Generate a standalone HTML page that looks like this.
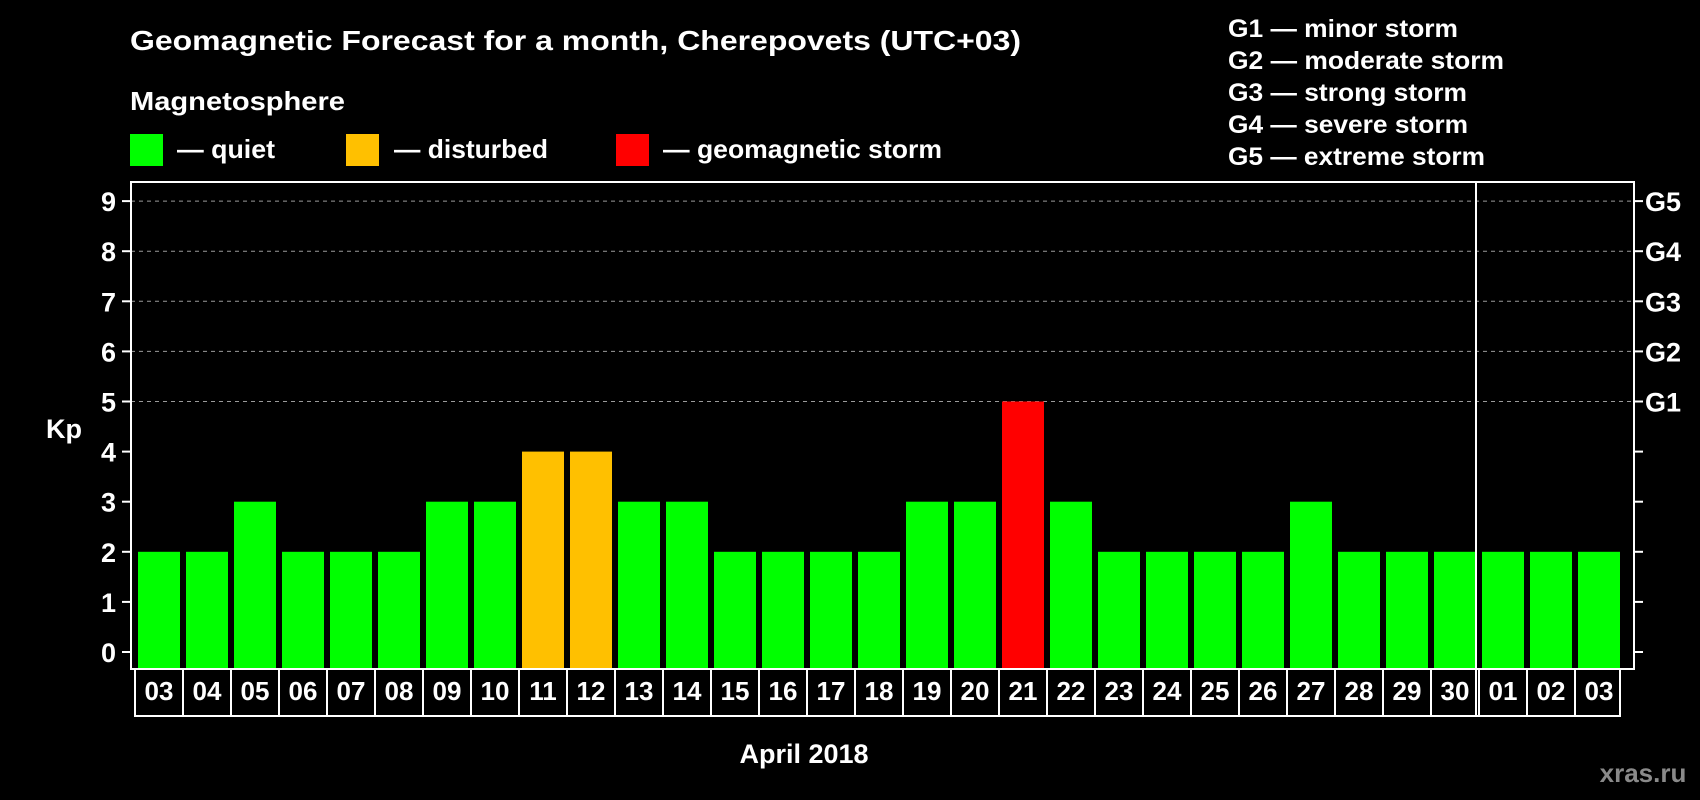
<!DOCTYPE html>
<html><head><meta charset="utf-8"><style>
html,body{margin:0;padding:0;background:#000;}
svg{display:block;}
text{font-family:"Liberation Sans",Arial,sans-serif;font-weight:bold;fill:#fff;}
</style></head><body>
<svg id="chart" width="1700" height="800" viewBox="0 0 1700 800" xmlns="http://www.w3.org/2000/svg">
<rect width="1700" height="800" fill="#000"/>
<text x="130" y="50" font-size="28" textLength="891" lengthAdjust="spacingAndGlyphs">Geomagnetic Forecast for a month, Cherepovets (UTC+03)</text>
<text x="130" y="110" font-size="26" textLength="215" lengthAdjust="spacingAndGlyphs">Magnetosphere</text>
<rect x="130" y="134" width="33" height="32" fill="#00ff00"/>
<text x="177" y="158" font-size="26" textLength="98" lengthAdjust="spacingAndGlyphs">— quiet</text>
<rect x="346" y="134" width="33" height="32" fill="#ffc000"/>
<text x="394" y="158" font-size="26" textLength="154" lengthAdjust="spacingAndGlyphs">— disturbed</text>
<rect x="616" y="134" width="33" height="32" fill="#ff0000"/>
<text x="663" y="158" font-size="26" textLength="279" lengthAdjust="spacingAndGlyphs">— geomagnetic storm</text>
<g>
<text x="1228" y="37" font-size="25" textLength="230" lengthAdjust="spacingAndGlyphs">G1 — minor storm</text>
<text x="1228" y="69" font-size="25" textLength="276" lengthAdjust="spacingAndGlyphs">G2 — moderate storm</text>
<text x="1228" y="101" font-size="25" textLength="239" lengthAdjust="spacingAndGlyphs">G3 — strong storm</text>
<text x="1228" y="133" font-size="25" textLength="240" lengthAdjust="spacingAndGlyphs">G4 — severe storm</text>
<text x="1228" y="165" font-size="25" textLength="257" lengthAdjust="spacingAndGlyphs">G5 — extreme storm</text>
</g>
<g id="grid"></g>
<g id="bars"></g>
<rect x="131" y="182" width="1503" height="487" fill="none" stroke="#fff" stroke-width="2"/>
<g id="axes"></g>
<text x="64" y="438" font-size="27" text-anchor="middle">Kp</text>
<text x="804" y="763" font-size="27" text-anchor="middle">April 2018</text>
<text x="1643" y="782" font-size="26" text-anchor="middle" style="fill:#8a8a8a">xras.ru</text>
</svg>
<script>
const days = ["03","04","05","06","07","08","09","10","11","12","13","14","15","16","17","18","19","20","21","22","23","24","25","26","27","28","29","30","01","02","03"];
const kpValues = [2,2,3,2,2,2,3,3,4,4,3,3,2,2,2,2,3,3,5,3,2,2,2,2,3,2,2,2,2,2,2];
const yTicks = [0,1,2,3,4,5,6,7,8,9];
const gLabels = ["G1","G2","G3","G4","G5"];
const gLevels = [5,6,7,8,9];
const monthBreakIndex = 28;

const NS = "http://www.w3.org/2000/svg";
const y0 = 652, unit = 50.1, frameBottom = 669, frameLeft = 131, frameRight = 1634;
const xStart = 135, pitch = 48, barW = 42;
const boxTop = 669, boxBottom = 716;
function yScale(v){ return y0 - v*unit; }
function xScale(i){ return xStart + i*pitch; }
function mk(tag, attrs, parent){ const e=document.createElementNS(NS,tag); for(const k in attrs) e.setAttribute(k,attrs[k]); parent.appendChild(e); return e; }
function color(v){ return v>=5 ? "#ff0000" : (v>=4 ? "#ffc000" : "#00ff00"); }

const grid = document.getElementById("grid");
const bars = document.getElementById("bars");
const axes = document.getElementById("axes");

gLevels.forEach((lv, i) => {
  const y = yScale(lv);
  const l = mk("line",{x1:frameLeft,x2:frameRight,y1:y,y2:y,stroke:"#9a9a9a","stroke-width":1,"stroke-dasharray":"4,4"},grid);
  
  
  const t = mk("text",{x:1645,y:y+10,"font-size":27},axes);
  t.textContent = gLabels[i];
  
  
});

yTicks.forEach(v => {
  const y = yScale(v);
  const a = mk("line",{x1:122,x2:frameLeft,y1:y,y2:y,stroke:"#fff","stroke-width":2},axes);
  
  
  const b = mk("line",{x1:frameRight,x2:frameRight+9,y1:y,y2:y,stroke:"#fff","stroke-width":2},axes);
  
  
  const t = mk("text",{x:116,y:y+10,"font-size":27,"text-anchor":"end"},axes);
  t.textContent = v;
  
  
});

kpValues.forEach((v, i) => {
  const x = xScale(i) + 3;
  const top = yScale(v);
  const r = mk("rect",{x:x,y:top,width:barW,height:frameBottom-top,fill:color(v)},bars);
  
  
});

const sepX = xScale(monthBreakIndex) - 3;
const sep = mk("line",{x1:sepX,x2:sepX,y1:182,y2:boxBottom,stroke:"#fff","stroke-width":2},axes);



const boxRight = xScale(days.length) - 3;
const box = mk("rect",{x:xStart,y:boxTop,width:boxRight-xStart,height:boxBottom-boxTop,fill:"none",stroke:"#fff","stroke-width":2},axes);


days.forEach((d, i) => {
  if (i > 0) {
    const dx = xScale(i);
    const dl = mk("line",{x1:dx,x2:dx,y1:boxTop,y2:boxBottom,stroke:"#fff","stroke-width":2},axes);
    
    
  }
  const t = mk("text",{x:xScale(i)+pitch/2,y:700,"font-size":26,"text-anchor":"middle"},axes);
  t.textContent = d;
  
  
});
</script>
</body></html>
